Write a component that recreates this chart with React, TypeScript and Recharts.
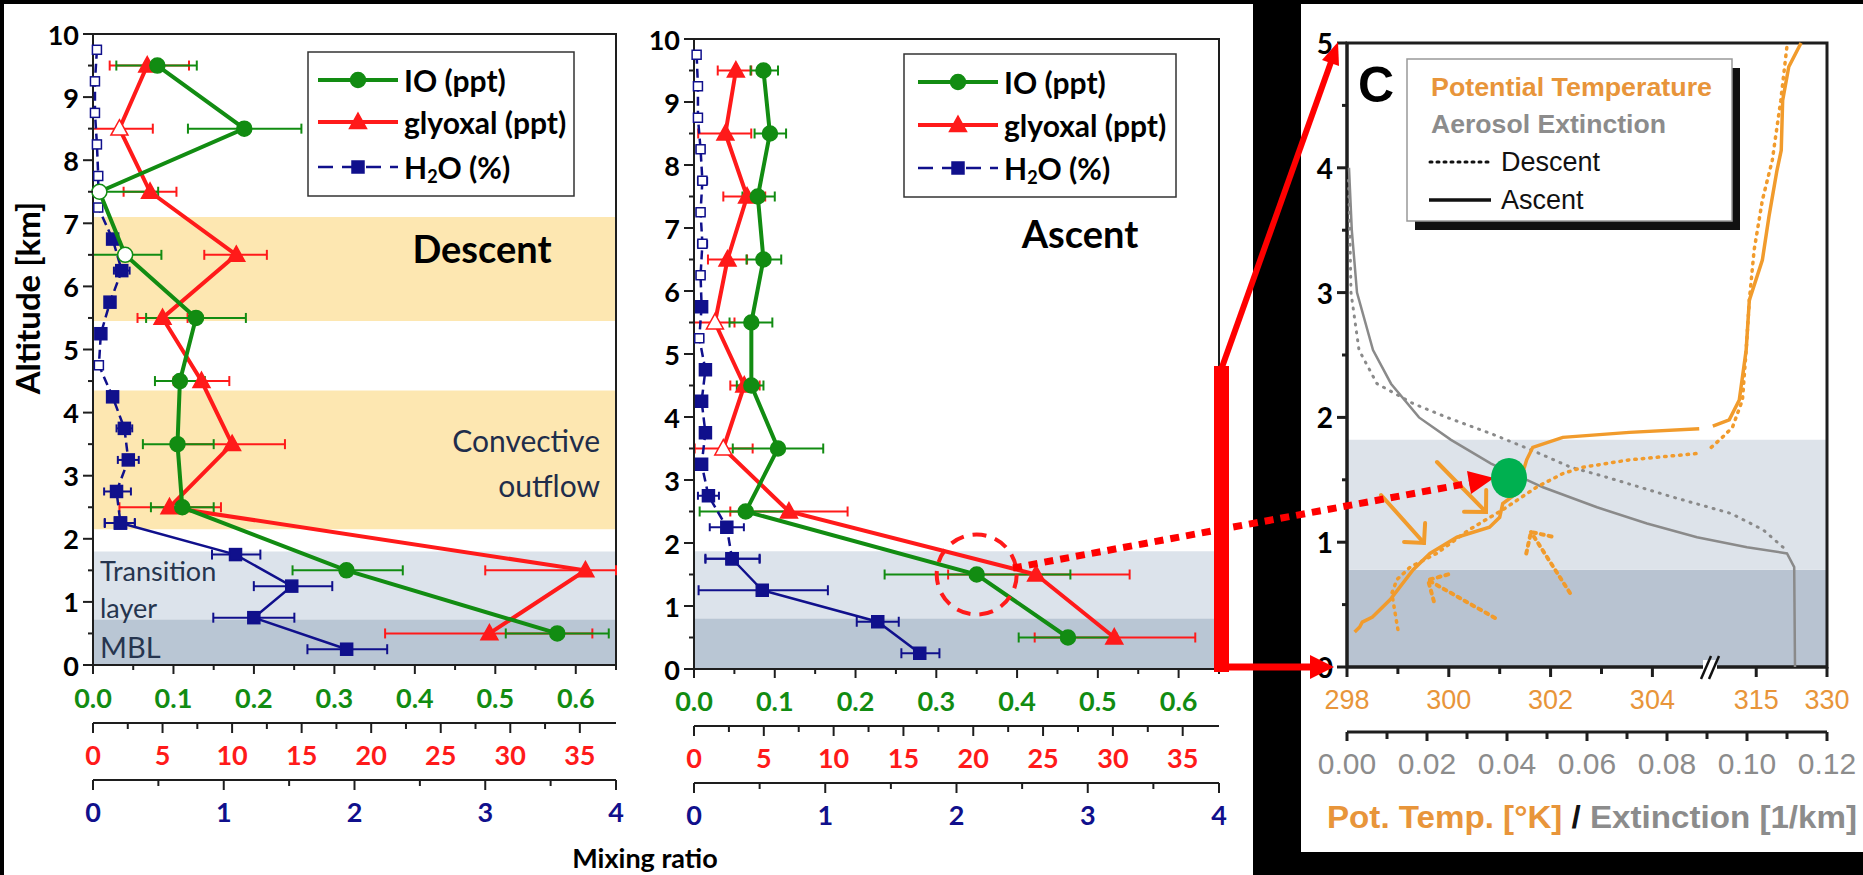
import React from 'react';
import {
  ScatterChart,
  Scatter,
  XAxis,
  YAxis,
  ErrorBar,
  ReferenceArea,
  ReferenceDot,
} from 'recharts';

const CAL = 'Lato, "Open Sans", sans-serif';
const ARIAL = '"Liberation Sans", Arial, sans-serif';
const GREEN = '#128c12';
const RED = '#ff1a1a';
const BLUE = '#10108c';
const ORANGE = '#f19b2c';
const ORANGE_TXT = '#e8953a';
const GRAY = '#8c8c8c';
const AXIS = '#1e1e1e';

// ---------- mixing ratio profiles ----------
const binAlt = [9.5, 8.5, 7.5, 6.5, 5.5, 4.5, 3.5, 2.5, 1.5, 0.5];
const h2oAlt = [9.75, 9.25, 8.75, 8.25, 7.75, 7.25, 6.75, 6.25, 5.75, 5.25, 4.75, 4.25, 3.75, 3.25, 2.75, 2.25, 1.75, 1.25, 0.75, 0.25];

// descent
const ioDesc = [0.080, 0.188, 0.008, 0.040, 0.128, 0.108, 0.105, 0.111, 0.315, 0.577];
const ioDescLo = [0.029, 0.118, 0.000, 0.000, 0.066, 0.077, 0.062, 0.072, 0.248, 0.513];
const ioDescHi = [0.129, 0.259, 0.081, 0.085, 0.190, 0.139, 0.150, 0.150, 0.385, 0.641];
const ioDescOpen = [7.5, 6.5];
const glyDesc = [3.9, 1.9, 4.1, 10.3, 5.0, 7.8, 10.0, 5.5, 35.4, 28.5];
const glyDescLo = [1.2, 0.0, 2.2, 8.0, 3.2, 5.8, 6.2, 1.9, 28.2, 21.0];
const glyDescHi = [6.9, 4.3, 6.0, 12.5, 6.8, 9.8, 13.8, 9.2, 37.6, 35.9];
const glyDescOpen = [8.5];
const h2oDesc = [0.03, 0.015, 0.015, 0.03, 0.04, 0.04, 0.15, 0.22, 0.13, 0.06, 0.045, 0.15, 0.24, 0.27, 0.18, 0.21, 1.09, 1.52, 1.23, 1.94];
const h2oDescLo = [0.01, 0.0, 0.0, 0.01, 0.02, 0.02, 0.12, 0.16, 0.11, 0.04, 0.03, 0.13, 0.18, 0.19, 0.085, 0.09, 0.91, 1.23, 0.92, 1.64];
const h2oDescHi = [0.05, 0.03, 0.03, 0.06, 0.06, 0.06, 0.18, 0.28, 0.15, 0.08, 0.06, 0.17, 0.30, 0.35, 0.29, 0.32, 1.28, 1.83, 1.54, 2.25];
const h2oDescOpen = [9.75, 9.25, 8.75, 8.25, 7.75, 7.25, 4.75];
const h2oDescSolidBelow = 2.25;

// ascent
const ioAsc = [0.086, 0.094, 0.079, 0.086, 0.071, 0.071, 0.104, 0.064, 0.350, 0.463];
const ioAscLo = [0.070, 0.075, 0.060, 0.065, 0.044, 0.053, 0.048, 0.007, 0.236, 0.402];
const ioAscHi = [0.104, 0.114, 0.100, 0.108, 0.097, 0.086, 0.160, 0.119, 0.466, 0.523];
const glyAsc = [3.0, 2.25, 3.8, 2.4, 1.5, 3.6, 2.1, 6.8, 24.5, 30.1];
const glyAscLo = [1.7, 0.3, 2.1, 1.0, 0.0, 2.6, 0.05, 2.6, 18.2, 24.4];
const glyAscHi = [4.1, 4.1, 5.1, 3.8, 2.9, 4.7, 4.2, 11.0, 31.2, 35.9];
const glyAscOpen = [5.5, 3.5];
const h2oAsc = [0.02, 0.03, 0.03, 0.05, 0.064, 0.05, 0.064, 0.05, 0.058, 0.04, 0.087, 0.058, 0.087, 0.058, 0.11, 0.25, 0.29, 0.52, 1.40, 1.72];
const h2oAscLo = [0.0, 0.01, 0.01, 0.02, 0.03, 0.02, 0.03, 0.02, 0.04, 0.01, 0.05, 0.04, 0.07, 0.04, 0.03, 0.12, 0.087, 0.035, 1.24, 1.58];
const h2oAscHi = [0.04, 0.05, 0.05, 0.08, 0.10, 0.08, 0.10, 0.08, 0.08, 0.07, 0.12, 0.08, 0.10, 0.08, 0.19, 0.38, 0.50, 1.02, 1.56, 1.87];
const h2oAscOpen = [9.75, 9.25, 8.75, 8.25, 7.75, 7.25, 6.75, 6.25, 5.25];
const h2oAscSolidBelow = 1.75;

// axis ticks
const altTicks = [0, 0.5, 1, 1.5, 2, 2.5, 3, 3.5, 4, 4.5, 5, 5.5, 6, 6.5, 7, 7.5, 8, 8.5, 9, 9.5, 10];
const altLabels = [0, 1, 2, 3, 4, 5, 6, 7, 8, 9, 10];
const ioTicks = [0, 0.05, 0.1, 0.15, 0.2, 0.25, 0.3, 0.35, 0.4, 0.45, 0.5, 0.55, 0.6, 0.65];
const ioLabels = [0, 0.1, 0.2, 0.3, 0.4, 0.5, 0.6];
const glyTicks = [0, 2.5, 5, 7.5, 10, 12.5, 15, 17.5, 20, 22.5, 25, 27.5, 30, 32.5, 35];
const glyLabels = [0, 5, 10, 15, 20, 25, 30, 35];
const h2oTicks = [0, 0.5, 1, 1.5, 2, 2.5, 3, 3.5, 4];
const h2oLabels = [0, 1, 2, 3, 4];

// ---------- panel C: potential temperature / aerosol extinction ----------
const ptAscAlt = [0.28, 0.32, 0.36, 0.40, 0.54, 0.78, 0.91, 1.04, 1.12, 1.20, 1.31, 1.39, 1.66, 1.76, 1.84, 1.88, 1.91];
const ptAscK = [298.15, 298.25, 298.3, 298.5, 298.85, 299.3, 299.63, 300.16, 300.8, 301.0, 301.06, 301.33, 301.53, 301.65, 302.24, 303.55, 304.92];
const ptAscUpAlt = [1.93, 1.98, 2.14, 2.54, 2.94, 3.26, 3.61, 3.98, 4.14, 4.54, 4.81, 5.0];
const ptAscUpK = [306.8, 309.9, 311.8, 313.1, 313.7, 316.3, 317.7, 319.4, 320.3, 320.6, 321.9, 324.5];
const ptDesAlt = [0.30, 0.59, 0.70, 0.80, 0.91, 1.10, 1.26, 1.44, 1.55, 1.60, 1.66, 1.71];
const ptDesK = [299.0, 298.88, 298.98, 299.24, 299.76, 300.4, 301.06, 301.72, 302.24, 302.63, 303.55, 304.86];
const ptDesUpAlt = [1.76, 1.84, 1.92, 2.14, 2.54, 2.94, 3.34, 3.74, 4.06, 4.54, 4.97];
const ptDesUpK = [306.5, 308.6, 310.5, 312.4, 313.1, 313.7, 314.6, 316.3, 318.4, 320.2, 321.5];
const extAscAlt = [4.0, 3.5, 3.0, 2.54, 2.27, 2.0, 1.82, 1.63, 1.44, 1.28, 1.15, 1.04, 0.96, 0.91, 0.80, 0.0];
const extAscV = [0.0005, 0.0012, 0.0025, 0.0065, 0.011, 0.018, 0.026, 0.036, 0.049, 0.0625, 0.075, 0.0875, 0.100, 0.110, 0.1118, 0.112];
const extDesAlt = [3.9, 3.5, 3.0, 2.54, 2.27, 2.11, 2.0, 1.87, 1.74, 1.60, 1.52, 1.36, 1.23, 1.10, 0.96];
const extDesV = [0.0004, 0.0007, 0.001, 0.003, 0.0075, 0.0166, 0.025, 0.036, 0.046, 0.056, 0.065, 0.0816, 0.096, 0.104, 0.109];

const potTicksK = [298, 299, 300, 301, 302, 303, 304, 315, 330];
const potLabelsK = [298, 300, 302, 304, 315, 330];
const extTicks = [0, 0.01, 0.02, 0.03, 0.04, 0.05, 0.06, 0.07, 0.08, 0.09, 0.1, 0.11, 0.12];
const extLabels = [0, 0.02, 0.04, 0.06, 0.08, 0.1, 0.12];
const cAltTicks = [0, 0.5, 1, 1.5, 2, 2.5, 3, 3.5, 4, 4.5, 5];
const cAltLabels = [0, 1, 2, 3, 4, 5];
const cRightTicks = [0.5, 1, 1.5, 2, 2.5, 3, 3.5, 4, 4.5];

// broken temperature axis: 298-305 K linear, compressed above the break
function potScale(t: number) {
  if (t <= 305) return t;
  if (t <= 315) return 305 + (t - 305) * 0.104;
  return 306.04 + (t - 315) * 0.0927;
}

const withErr = (alt: number[], v: number[], lo: number[], hi: number[], open: number[]) =>
  alt.map((a, i) => ({ x: v[i], y: a, err: [v[i] - lo[i], hi[i] - v[i]], open: open.includes(a) }));
const profile = (alt: number[], v: number[], f = (x: number) => x) =>
  alt.map((a, i) => ({ x: f(v[i]), y: a }));

function Marker({ kind, cx, cy, color, open, s }: any) {
  const fill = open ? '#fff' : color;
  if (kind === 'circle') return <circle cx={cx} cy={cy} r={s} fill={fill} stroke={color} strokeWidth={1.5} />;
  if (kind === 'tri')
    return (
      <polygon
        points={`${cx},${cy - s * 1.05} ${cx + s},${cy + s * 0.75} ${cx - s},${cy + s * 0.75}`}
        fill={fill}
        stroke={color}
        strokeWidth={1.5}
      />
    );
  return <rect x={cx - s} y={cy - s} width={2 * s} height={2 * s} fill={fill} stroke={color} strokeWidth={1.5} />;
}

const shapeOf = (kind: string, color: string, s: number, sOpen = s) => (p: any) => {
  const open = !!(p.payload ? p.payload.open : p.open);
  return <Marker kind={kind} cx={p.cx} cy={p.cy} color={color} open={open} s={open ? sOpen : s} />;
};
const noDot = () => <g />;

function BottomTick({ x, y, payload, cfg }: any) {
  const v = payload.value;
  const i = cfg.majors.findIndex((m: number) => Math.abs(m - v) < 1e-6);
  return (
    <g>
      <line x1={x} x2={x} y1={y} y2={y + (i >= 0 ? cfg.major : cfg.minor)} stroke={AXIS} strokeWidth={cfg.sw || 2} />
      {i >= 0 && (
        <text
          x={x}
          y={y + cfg.dy}
          textAnchor="middle"
          dominantBaseline="central"
          fill={cfg.color}
          fontSize={cfg.size}
          fontFamily={cfg.family}
          fontWeight={cfg.weight}
        >
          {cfg.texts[i]}
        </text>
      )}
    </g>
  );
}

function LeftTick({ x, y, payload, cfg }: any) {
  const v = payload.value;
  const isMajor = cfg.majors.some((m: number) => Math.abs(m - v) < 1e-6);
  return (
    <g>
      <line x1={x} x2={x - (isMajor ? cfg.major : cfg.minor)} y1={y} y2={y} stroke={AXIS} strokeWidth={cfg.sw || 2} />
      {isMajor && (
        <text
          x={x - cfg.major - 4}
          y={y}
          textAnchor="end"
          dominantBaseline="central"
          fill="#000"
          fontSize={cfg.size}
          fontFamily={CAL}
          fontWeight="bold"
        >
          {v}
        </text>
      )}
    </g>
  );
}

function InTick({ x, y }: any) {
  return <line x1={x} x2={x - 10} y1={y} y2={y} stroke={AXIS} strokeWidth={3} />;
}

// bottom axes stack in id order: a_ (next to the plot), b_, c_
function MixPanel({ left, width, height, margin, axisH, io, gly, h2o, solidBelow, bands, circle }: any) {
  const h2oUp = h2o.filter((d: any) => d.y >= solidBelow);
  const h2oLow = h2o.filter((d: any) => d.y <= solidBelow);
  const bottomCfg = (majors: number[], texts: string[], color: string, dy: number) => ({
    majors, texts, color, dy, size: 27, family: CAL, weight: 'bold', major: 9, minor: 5,
  });
  return (
    <div style={{ position: 'absolute', left, top: 0 }}>
      <ScatterChart width={width} height={height} margin={margin}>
        <XAxis
          xAxisId="a_io" type="number" dataKey="x" domain={[0, 0.65]} ticks={ioTicks} interval={0}
          height={axisH[0]} tickSize={0} tickMargin={0} tickLine={false}
          axisLine={{ stroke: AXIS, strokeWidth: 2 }}
          tick={(p: any) => <BottomTick {...p} cfg={bottomCfg(ioLabels, ioLabels.map((v) => v.toFixed(1)), GREEN, axisH[3])} />}
        />
        <XAxis
          xAxisId="b_gly" type="number" dataKey="x" domain={[0, 37.6]} allowDataOverflow ticks={glyTicks} interval={0}
          height={axisH[1]} tickSize={0} tickMargin={0} tickLine={false}
          axisLine={{ stroke: AXIS, strokeWidth: 2 }}
          tick={(p: any) => <BottomTick {...p} cfg={{ ...bottomCfg(glyLabels, glyLabels.map(String), RED, 31), major: 10, minor: 6 }} />}
        />
        <XAxis
          xAxisId="c_h2o" type="number" dataKey="x" domain={[0, 4]} ticks={h2oTicks} interval={0}
          height={axisH[2]} tickSize={0} tickMargin={0} tickLine={false}
          axisLine={{ stroke: AXIS, strokeWidth: 2 }}
          tick={(p: any) => <BottomTick {...p} cfg={{ ...bottomCfg(h2oLabels, h2oLabels.map(String), BLUE, 31), major: 10, minor: 6 }} />}
        />
        <YAxis
          type="number" dataKey="y" domain={[0, 10]} ticks={altTicks} interval={0} width={60}
          tickSize={0} tickMargin={0} tickLine={false} axisLine={{ stroke: AXIS, strokeWidth: 2 }}
          tick={(p: any) => <LeftTick {...p} cfg={{ majors: altLabels, major: 10, minor: 5, size: 27 }} />}
        />
        {bands.map((b: any, i: number) => (
          <ReferenceArea key={i} xAxisId="a_io" y1={b[0]} y2={b[1]} fill={b[2]} fillOpacity={1} stroke="none" />
        ))}
        <ReferenceArea xAxisId="a_io" x1={0} x2={0.65} y1={0} y2={10} fill="none" fillOpacity={0} stroke={AXIS} strokeWidth={2} />

        <Scatter xAxisId="c_h2o" data={h2oUp} fill={BLUE} isAnimationActive={false}
          line={{ stroke: BLUE, strokeWidth: 2.5, strokeDasharray: '9 5' }} lineType="joint"
          shape={shapeOf('sq', BLUE, 6, 4.5)}>
          <ErrorBar dataKey="err" direction="x" width={4} stroke={BLUE} strokeWidth={2} />
        </Scatter>
        <Scatter xAxisId="c_h2o" data={h2oLow} fill={BLUE} isAnimationActive={false}
          line={{ stroke: BLUE, strokeWidth: 2.5 }} lineType="joint" shape={shapeOf('sq', BLUE, 6)}>
          <ErrorBar dataKey="err" direction="x" width={5} stroke={BLUE} strokeWidth={2} />
        </Scatter>
        <Scatter xAxisId="b_gly" data={gly} fill={RED} isAnimationActive={false}
          line={{ stroke: RED, strokeWidth: 4 }} lineType="joint" shape={shapeOf('tri', RED, 8.5)}>
          <ErrorBar dataKey="err" direction="x" width={5} stroke={RED} strokeWidth={2} />
        </Scatter>
        <Scatter xAxisId="a_io" data={io} fill={GREEN} isAnimationActive={false}
          line={{ stroke: GREEN, strokeWidth: 4 }} lineType="joint" shape={shapeOf('circle', GREEN, 7.5)}>
          <ErrorBar dataKey="err" direction="x" width={5} stroke={GREEN} strokeWidth={2} />
        </Scatter>
        {circle && (
          <ReferenceDot xAxisId="a_io" x={circle[0]} y={circle[1]} r={40} fill="none" stroke={RED}
            strokeWidth={4} strokeDasharray="14 9" />
        )}
      </ScatterChart>
    </div>
  );
}

function ThetaPanel() {
  const potU = potTicksK.map(potScale);
  const potLabU = potLabelsK.map(potScale);
  return (
    <div style={{ position: 'absolute', left: 1250, top: 0 }}>
      <ScatterChart width={617} height={782} margin={{ top: 43, right: 40, left: 37, bottom: 0 }}>
        <XAxis
          xAxisId="a_pot" type="number" dataKey="x" domain={[298, potScale(330)]} allowDataOverflow ticks={potU} interval={0}
          height={65} tickSize={0} tickMargin={0} tickLine={false} axisLine={{ stroke: AXIS, strokeWidth: 3 }}
          tick={(p: any) => (
            <BottomTick {...p} cfg={{ majors: potLabU, texts: potLabelsK.map(String), color: ORANGE_TXT, dy: 33, size: 27, family: ARIAL, weight: 'normal', major: 10, minor: 7, sw: 3 }} />
          )}
        />
        <XAxis
          xAxisId="b_ext" type="number" dataKey="x" domain={[0, 0.12]} ticks={extTicks} interval={0}
          height={50} tickSize={0} tickMargin={0} tickLine={false} axisLine={{ stroke: AXIS, strokeWidth: 3 }}
          tick={(p: any) => (
            <BottomTick {...p} cfg={{ majors: extLabels, texts: extLabels.map((v) => v.toFixed(2)), color: GRAY, dy: 31, size: 30, family: ARIAL, weight: 'normal', major: 9, minor: 7, sw: 3 }} />
          )}
        />
        <YAxis
          type="number" dataKey="y" domain={[0, 5]} ticks={cAltTicks} interval={0} width={60}
          tickSize={0} tickMargin={0} tickLine={false} axisLine={{ stroke: AXIS, strokeWidth: 3 }}
          tick={(p: any) => <LeftTick {...p} cfg={{ majors: cAltLabels, major: 10, minor: 5, size: 28, sw: 3 }} />}
        />
        <YAxis
          yAxisId="r" orientation="right" type="number" domain={[0, 5]} allowDataOverflow ticks={cRightTicks} interval={0}
          width={0} tickSize={0} tickMargin={0} tickLine={false} axisLine={{ stroke: AXIS, strokeWidth: 3 }}
          tick={(p: any) => <InTick {...p} />}
        />
        <ReferenceArea xAxisId="b_ext" y1={0} y2={0.78} fill="#b8c3d1" fillOpacity={1} stroke="none" />
        <ReferenceArea xAxisId="b_ext" y1={0.78} y2={1.82} fill="#dde3ea" fillOpacity={1} stroke="none" />
        <ReferenceArea xAxisId="b_ext" x1={0} x2={0.12} y1={0} y2={5} fill="none" fillOpacity={0} stroke={AXIS} strokeWidth={3} />

        <Scatter xAxisId="b_ext" data={profile(extDesAlt, extDesV)} isAnimationActive={false} shape={noDot}
          line={{ stroke: '#8a8a8a', strokeWidth: 3, strokeDasharray: '1 7', strokeLinecap: 'round' }} lineType="joint" />
        <Scatter xAxisId="b_ext" data={profile(extAscAlt, extAscV)} isAnimationActive={false} shape={noDot}
          line={{ stroke: '#8a8a8a', strokeWidth: 2.5 }} lineType="joint" />
        <Scatter xAxisId="a_pot" data={profile(ptDesAlt, ptDesK, potScale)} isAnimationActive={false} shape={noDot}
          line={{ stroke: ORANGE, strokeWidth: 3.5, strokeDasharray: '1.5 6', strokeLinecap: 'round' }} lineType="joint" />
        <Scatter xAxisId="a_pot" data={profile(ptDesUpAlt, ptDesUpK, potScale)} isAnimationActive={false} shape={noDot}
          line={{ stroke: ORANGE, strokeWidth: 3.5, strokeDasharray: '1.5 6', strokeLinecap: 'round' }} lineType="joint" />
        <Scatter xAxisId="a_pot" data={profile(ptAscAlt, ptAscK, potScale)} isAnimationActive={false} shape={noDot}
          line={{ stroke: ORANGE, strokeWidth: 3.5 }} lineType="joint" />
        <Scatter xAxisId="a_pot" data={profile(ptAscUpAlt, ptAscUpK, potScale)} isAnimationActive={false} shape={noDot}
          line={{ stroke: ORANGE, strokeWidth: 3.5 }} lineType="joint" />
      </ScatterChart>
    </div>
  );
}

function MixLegend({ x, y, w, h, rows, sx, tx }: any) {
  const items = [
    { kind: 'circle', color: GREEN, s: 7.5, dash: undefined, label: 'IO (ppt)' },
    { kind: 'tri', color: RED, s: 8.5, dash: undefined, label: 'glyoxal (ppt)' },
    { kind: 'sq', color: BLUE, s: 6, dash: '15 9', label: 'H2O' },
  ];
  return (
    <g>
      <rect x={x} y={y} width={w} height={h} fill="#fff" stroke="#333" strokeWidth={1.5} />
      {items.map((it, i) => (
        <g key={i}>
          <line x1={sx} x2={sx + 80} y1={rows[i]} y2={rows[i]} stroke={it.color} strokeWidth={it.kind === 'sq' ? 2.5 : 4} strokeDasharray={it.dash} />
          <Marker kind={it.kind} cx={sx + 40} cy={rows[i]} color={it.color} open={false} s={it.s} />
          {it.kind === 'sq' ? (
            <text x={tx} y={rows[i]} dominantBaseline="central" fontFamily={CAL} fontWeight="bold" fontSize={30}>
              H<tspan dy={9} fontSize={18}>2</tspan>
              <tspan dy={-9}>O (%)</tspan>
            </text>
          ) : (
            <text x={tx} y={rows[i]} dominantBaseline="central" fontFamily={CAL} fontWeight="bold" fontSize={30}>
              {it.label}
            </text>
          )}
        </g>
      ))}
    </g>
  );
}

function VArrow({ x1, y1, x2, y2, len = 20, dash }: any) {
  const dx = x2 - x1;
  const dy = y2 - y1;
  const L = Math.hypot(dx, dy);
  const bx = -dx / L;
  const by = -dy / L;
  const c = Math.SQRT1_2;
  const a1 = [x2 + len * (bx * c - by * c), y2 + len * (bx * c + by * c)];
  const a2 = [x2 + len * (bx * c + by * c), y2 + len * (-bx * c + by * c)];
  return (
    <g stroke={ORANGE} strokeWidth={4} fill="none" strokeLinecap="round">
      <line x1={x1} y1={y1} x2={x2} y2={y2} strokeDasharray={dash} />
      <polyline points={`${a1[0]},${a1[1]} ${x2},${y2} ${a2[0]},${a2[1]}`} strokeDasharray={dash} />
    </g>
  );
}

function Overlay() {
  const txt = { fontFamily: CAL, dominantBaseline: 'central' as any };
  return (
    <svg width={1863} height={875} style={{ position: 'absolute', left: 0, top: 0, pointerEvents: 'none' }}>
      <text transform="translate(27 298) rotate(-90)" textAnchor="middle" {...txt} fontWeight="bold" fontSize={33}>
        Altitude [km]
      </text>
      <text x={482} y={248} textAnchor="middle" {...txt} fontWeight="bold" fontSize={38}>Descent</text>
      <text x={1080} y={233} textAnchor="middle" {...txt} fontWeight="bold" fontSize={38}>Ascent</text>
      <text x={600} y={440} textAnchor="end" {...txt} fontSize={30} fill="#1f2d4b">Convective</text>
      <text x={600} y={485} textAnchor="end" {...txt} fontSize={30} fill="#1f2d4b">outflow</text>
      <text x={100} y={570} {...txt} fontSize={27} fill="#26354f">Transition</text>
      <text x={100} y={607} {...txt} fontSize={27} fill="#26354f">layer</text>
      <text x={100} y={646} {...txt} fontSize={29} fill="#26354f">MBL</text>
      <text x={645} y={857} textAnchor="middle" {...txt} fontWeight="bold" fontSize={27}>Mixing ratio</text>

      <MixLegend x={308} y={52} w={266} h={144} rows={[80, 122, 167]} sx={318} tx={404} />
      <MixLegend x={904} y={54} w={272} h={143} rows={[82, 125, 168]} sx={918} tx={1004} />

      {/* panel C legend and labels */}
      <rect x={1415} y={68} width={325} height={162} fill="#111" />
      <rect x={1407} y={59} width={325} height={162} fill="#fff" stroke="#999" strokeWidth={1.5} />
      <text x={1431} y={87} fontFamily={ARIAL} dominantBaseline="central" fontWeight="bold" fontSize={26}
        fill={ORANGE_TXT} textLength={281} lengthAdjust="spacingAndGlyphs">Potential Temperature</text>
      <text x={1431} y={124} fontFamily={ARIAL} dominantBaseline="central" fontWeight="bold" fontSize={26}
        fill={GRAY} textLength={235} lengthAdjust="spacingAndGlyphs">Aerosol Extinction</text>
      <line x1={1430} x2={1490} y1={162} y2={162} stroke="#111" strokeWidth={3} strokeDasharray="2 5" strokeLinecap="round" />
      <text x={1501} y={162} fontFamily={ARIAL} dominantBaseline="central" fontSize={27} fill="#111">Descent</text>
      <line x1={1429} x2={1491} y1={200} y2={200} stroke="#111" strokeWidth={3.5} />
      <text x={1501} y={200} fontFamily={ARIAL} dominantBaseline="central" fontSize={27} fill="#111">Ascent</text>
      <text x={1358} y={85} fontFamily={ARIAL} dominantBaseline="central" fontWeight="bold" fontSize={50} fill="#000">C</text>
      <text x={1327} y={817} fontFamily={ARIAL} dominantBaseline="central" fontWeight="bold" fontSize={31}
        textLength={530} lengthAdjust="spacingAndGlyphs">
        <tspan fill={ORANGE_TXT}>Pot. Temp. [°K]</tspan>
        <tspan fill="#111"> / </tspan>
        <tspan fill={GRAY}>Extinction [1/km]</tspan>
      </text>
      {/* axis break */}
      <rect x={1703} y={660} width={14} height={14} fill="#fff" />
      <line x1={1701} y1={679} x2={1711} y2={656} stroke="#111" strokeWidth={2.5} />
      <line x1={1709} y1={679} x2={1719} y2={656} stroke="#111" strokeWidth={2.5} />

      {/* orange flow arrows */}
      <VArrow x1={1437} y1={462} x2={1486} y2={512} len={22} />
      <VArrow x1={1381} y1={495} x2={1424} y2={543} len={20} />
      <VArrow x1={1570} y1={593} x2={1531} y2={532} len={22} dash="3 5" />
      <VArrow x1={1495} y1={618} x2={1428} y2={580} len={22} dash="3 5" />

      {/* red annotation arrows */}
      <rect x={1214} y={366} width={15} height={306} fill="#ff0000" />
      <line x1={1221} y1={667} x2={1312} y2={667} stroke="#ff0000" strokeWidth={7} />
      <polygon points="1310,655 1334,667 1310,679" fill="#ff0000" />
      <line x1={1221} y1={370} x2={1331} y2={62} stroke="#ff0000" strokeWidth={6} />
      <polygon points="1338,42 1339,66 1322,60" fill="#ff0000" />
      <line x1={1013} y1={568} x2={1470} y2={483} stroke="#ff0000" strokeWidth={7} strokeDasharray="9 7" />
      <polygon points="1494,478 1471,494 1467,471" fill="#ff0000" />
      <ellipse cx={1509} cy={478} rx={18} ry={20} fill="#00b050" />
    </svg>
  );
}

export default function App() {
  const ioD = withErr(binAlt, ioDesc, ioDescLo, ioDescHi, ioDescOpen);
  const glyD = withErr(binAlt, glyDesc, glyDescLo, glyDescHi, glyDescOpen);
  const h2oD = withErr(h2oAlt, h2oDesc, h2oDescLo, h2oDescHi, h2oDescOpen);
  const ioA = withErr(binAlt, ioAsc, ioAscLo, ioAscHi, []);
  const glyA = withErr(binAlt, glyAsc, glyAscLo, glyAscHi, glyAscOpen);
  const h2oA = withErr(h2oAlt, h2oAsc, h2oAscLo, h2oAscHi, h2oAscOpen);

  return (
    <div style={{ position: 'relative', width: 1863, height: 875, background: '#000', overflow: 'hidden' }}>
      <style>{'body{margin:0}'}</style>
      <div style={{ position: 'absolute', left: 4, top: 4, width: 1249, height: 871, background: '#fff' }} />
      <div style={{ position: 'absolute', left: 1301, top: 4, width: 562, height: 848, background: '#fff' }} />
      <MixPanel
        left={0} width={640} height={830}
        margin={{ top: 34, right: 24, left: 33, bottom: 0 }}
        axisH={[58, 57, 50, 32]}
        io={ioD} gly={glyD} h2o={h2oD} solidBelow={h2oDescSolidBelow}
        bands={[[5.45, 7.1, '#fde7b1'], [2.15, 4.35, '#fde7b1'], [0.72, 1.8, '#dce3eb'], [0, 0.72, '#b9c6d4']]}
      />
      <MixPanel
        left={600} width={640} height={833}
        margin={{ top: 39, right: 21, left: 34, bottom: 0 }}
        axisH={[57, 57, 50, 31]}
        io={ioA} gly={glyA} h2o={h2oA} solidBelow={h2oAscSolidBelow}
        bands={[[0.8, 1.87, '#dce3eb'], [0, 0.8, '#b9c6d4']]}
        circle={[0.35, 1.5]}
      />
      <ThetaPanel />
      <Overlay />
    </div>
  );
}
